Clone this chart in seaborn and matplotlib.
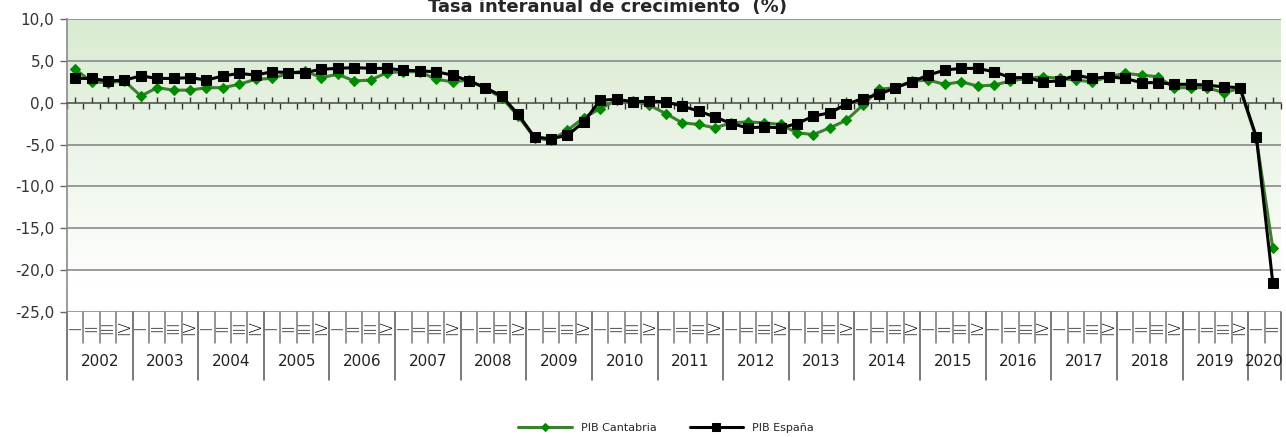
import numpy as np
import pandas as pd
import matplotlib
matplotlib.use("Agg")
import matplotlib.pyplot as plt
import matplotlib.transforms as mtransforms
from matplotlib.colors import to_rgb
import seaborn as sns

# Data (quarterly, 2002 Q1 - 2020 Q2)
years = list(range(2002, 2021))
quarters = ["I", "II", "III", "IV"]
pib_cantabria = [4.0, 2.5, 2.4, 2.6, 0.8, 1.8, 1.5, 1.5, 1.8, 1.8, 2.2, 2.8,
                 2.9, 3.5, 3.8, 3.0, 3.4, 2.6, 2.7, 3.6, 3.7, 3.7, 2.8, 2.5,
                 2.7, 1.7, 0.6, -1.6, -4.2, -4.5, -3.3, -1.8, -0.7, 0.3, 0.2, -0.3,
                 -1.3, -2.4, -2.6, -3.0, -2.4, -2.3, -2.4, -2.6, -3.6, -3.8, -3.0, -2.1,
                 -0.3, 1.6, 1.8, 2.6, 2.7, 2.2, 2.5, 2.0, 2.1, 2.6, 2.9, 3.1,
                 2.9, 2.7, 2.5, 3.1, 3.5, 3.3, 3.1, 1.8, 1.8, 1.8, 1.2, 1.7,
                 -4.3, -17.4]
pib_espana = [2.9, 2.9, 2.6, 2.7, 3.2, 2.9, 2.9, 3.0, 2.7, 3.2, 3.5, 3.3,
              3.7, 3.6, 3.6, 4.0, 4.1, 4.2, 4.1, 4.1, 3.9, 3.8, 3.7, 3.3,
              2.6, 1.8, 0.8, -1.4, -4.1, -4.3, -3.9, -2.3, 0.3, 0.4, 0.1, 0.2,
              0.1, -0.4, -1.0, -1.7, -2.5, -3.0, -2.9, -3.0, -2.5, -1.6, -1.2, -0.2,
              0.5, 1.0, 1.8, 2.5, 3.3, 3.9, 4.1, 4.1, 3.7, 3.0, 3.0, 2.5,
              2.6, 3.3, 2.9, 3.1, 2.9, 2.4, 2.4, 2.2, 2.2, 2.1, 1.9, 1.8,
              -4.1, -21.5]

n = len(pib_espana)
labels_q = [quarters[i % 4] for i in range(n)]
labels_y = [years[i // 4] for i in range(n)]
df = pd.DataFrame({"idx": np.arange(n), "cantabria": pib_cantabria,
                   "espana": pib_espana, "q": labels_q, "year": labels_y})

sns.set_style("white")
plt.rcParams["font.family"] = ["DejaVu Sans"]

fig = plt.figure(figsize=(12.86, 4.37), dpi=100)
W, H = 1286, 437
ax = fig.add_axes([67 / W, (H - 312) / H, (1281 - 67) / W, (312 - 19) / H])

ymin, ymax = -25, 10
xmin, xmax = -0.5, n - 0.5

# Background green gradient (top -> white near bottom)
top = np.array(to_rgb("#d9ebd1"))
white = np.ones(3)
ys = np.linspace(ymax, ymin, 300)
t = np.clip((ymax - ys) / (ymax - (-22)), 0, 1)[:, None]
grad = top * (1 - t) + white * t
img = np.repeat(grad[:, None, :], 2, axis=1)
ax.imshow(img, extent=[xmin, xmax, ymin, ymax], aspect="auto", zorder=0,
          interpolation="bilinear")

# Gridlines
for v in range(-25, 11, 5):
    if v != 0:
        ax.axhline(v, color="#8a8a8a", lw=1.2, zorder=1)

sns.lineplot(data=df, x="idx", y="cantabria", ax=ax, color="#3f7f30", lw=2.2,
             marker="D", markersize=5.5, markerfacecolor="#008a00",
             markeredgecolor="#008a00", label="PIB Cantabria", zorder=3)
sns.lineplot(data=df, x="idx", y="espana", ax=ax, color="black", lw=2.2,
             marker="s", markersize=6.5, markerfacecolor="black",
             markeredgecolor="black", label="PIB España", zorder=4)

ax.set_xlim(xmin, xmax)
ax.set_ylim(ymin, ymax)
ax.set_xlabel("")
ax.set_ylabel("")

# Axes / spines
for s in ["top", "right"]:
    ax.spines[s].set_visible(False)
ax.spines["left"].set_color("#8a8a8a")
ax.spines["left"].set_linewidth(1.2)
ax.spines["bottom"].set_position(("data", 0))
ax.spines["bottom"].set_color("#555555")
ax.spines["bottom"].set_linewidth(1.2)

ax.set_yticks(range(-25, 11, 5))
ax.set_yticklabels([f"{v:.1f}".replace(".", ",") for v in range(-25, 11, 5)],
                   fontsize=11, color="#333333")
ax.tick_params(axis="y", direction="out", length=5, width=1, color="#666666",
               left=True, pad=4)

ax.set_xticks(np.arange(n))
ax.set_xticks(np.arange(n + 1) - 0.5, minor=True)
ax.tick_params(axis="x", which="major", direction="in", length=4, width=1,
               color="#333333", labelbottom=False, bottom=True)
ax.tick_params(axis="x", which="minor", direction="out", length=4, width=1,
               color="#333333", bottom=True)

# Category table under the plot
trans = mtransforms.blended_transform_factory(ax.transData, ax.transAxes)
q_row = -31 / 293
y_row = -68 / 293
for b in range(n + 1):
    x = b - 0.5
    year_edge = (b % 4 == 0) or b == n
    ax.plot([x, x], [0, y_row if year_edge else q_row], transform=trans,
            color="#555555" if year_edge else "#777777", lw=1.1, clip_on=False)
for i in range(n):
    ax.text(i, q_row / 2, labels_q[i], transform=trans, rotation=90,
            ha="center", va="center", fontsize=11, color="black",
            fontweight="light")
for k, yr in enumerate(years):
    idx = [i for i in range(n) if labels_y[i] == yr]
    xc = (idx[0] + idx[-1]) / 2
    ax.text(xc, (q_row + y_row) / 2, str(yr), transform=trans,
            ha="center", va="center", fontsize=11, color="#222222")

# Title at the very top edge
fig.text(608 / W, 1 - 12.5 / H, "Tasa interanual de crecimiento  (%)",
         ha="center", va="baseline", fontsize=13, fontweight="bold")

ax.get_legend().remove()
handles, labs = ax.get_legend_handles_labels()
fig.legend(handles, labs, loc="center", bbox_to_anchor=(666 / W, 9 / H),
           ncol=2, frameon=False, fontsize=8, handlelength=4.8,
           columnspacing=3, markerscale=0.8)

fig.savefig("out.png", dpi=100)
